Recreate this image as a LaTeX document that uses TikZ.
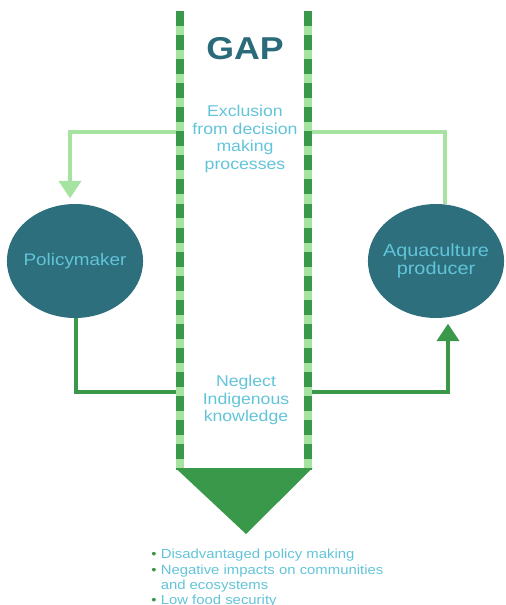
\documentclass[tikz,border=0pt]{standalone}
\usepackage{fontspec}
\setmainfont{Liberation Sans}
\usetikzlibrary{shapes.geometric,arrows.meta,calc}
\usepackage{xcolor}
\definecolor{lgreen}{HTML}{A6E3A1}
\definecolor{dgreen}{HTML}{3A984A}
\definecolor{deepteal}{HTML}{2D6F7D}
\definecolor{sky}{HTML}{62C4D9}
\definecolor{gapcol}{HTML}{2A6B79}
\tikzset{
  >={Triangle[width=12.5pt,length=10pt]},
  actor/.style={ellipse,fill=deepteal,text=sky,align=center,minimum width=2.41cm,minimum height=2.28cm,inner xsep=-12pt,inner ysep=0pt,xscale=1.13},
  note/.style={text=sky,align=center,inner sep=0pt,font=\fontsize{8.9}{9.9}\selectfont,xscale=1.13},
  lite/.style={draw=lgreen,line width=2.3pt},
  dark/.style={draw=dgreen,line width=2.3pt},
  wallbase/.style={draw=lgreen,line width=5.1pt},
  walldash/.style={draw=dgreen,line width=5.1pt,dash pattern=on 8.5pt off 5.2pt}
}

\begin{document}
\begin{tikzpicture}[x=0.02cm,y=-0.02cm]
\useasboundingbox (0,0) rectangle (505,605);
\node[actor,font=\fontsize{9.5}{10.5}\selectfont](pm)at(75,261){Policymaker};
\node[actor,font=\fontsize{10}{10.5}\selectfont](ap)at(436,261){Aquaculture\\producer};
\node[text=gapcol,font=\fontsize{18}{18}\selectfont\bfseries,inner sep=0pt,xscale=1.13](gap)at(245,49){GAP};
\node[note](excl)at(245,139){Exclusion\\from decision\\making\\processes};
\node[note](negl)at(246,400){Neglect\\Indigenous\\knowledge};
\coordinate(exl)at(180,132);\coordinate(exr)at(308,132);
\coordinate(ngl)at(180,392);\coordinate(ngr)at(308,392);
\draw[lite,->,shorten >=3pt](exl)-|($(pm.north)+(-5,0)$);
\draw[lite](exr)-|($(ap.north)+(9,0)$);
\draw[dark]($(pm.south)+(1,0)$)|-(ngl);
\draw[dark,->,shorten >=3pt](ngr)-|($(ap.south)+(12,0)$);
% the two walls of the gap and the funnel below
\foreach \x in {180,308}{\draw[wallbase](\x,11)--(\x,470);\draw[walldash](\x,11)--(\x,470);}
\fill[dgreen](175.5,468)--(312.5,468)--(246,534)--cycle;
\node[anchor=north west,text=sky,align=left,inner sep=0pt,font=\fontsize{7.5}{8.7}\selectfont,xscale=1.13](out)at(151,549){%
\textcolor{dgreen}{\textbullet}\ Disadvantaged policy making\\
\textcolor{dgreen}{\textbullet}\ Negative impacts on communities\\
\phantom{\textbullet}\ and ecosystems\\
\textcolor{dgreen}{\textbullet}\ Low food security};
\end{tikzpicture}
\end{document}
